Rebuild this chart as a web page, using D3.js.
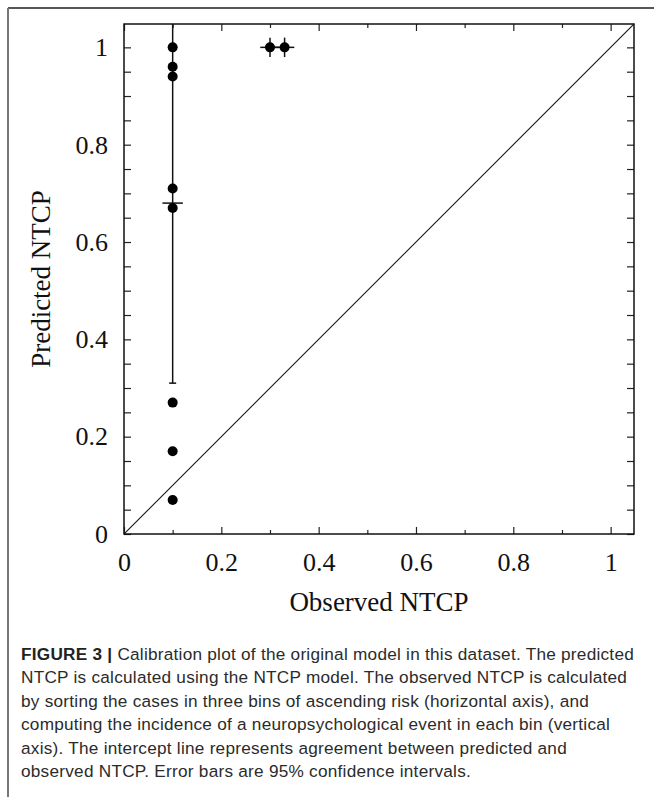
<!DOCTYPE html>
<html>
<head>
<meta charset="utf-8">
<script src="https://cdn.jsdelivr.net/npm/d3@7"></script>
<style>
  body { margin: 0; background: #fff; }
  svg { display: block; }
</style>
</head>
<body>
<script>
// individual cases: observed NTCP (bin) vs predicted NTCP
var observed  = [0.1, 0.1, 0.1, 0.1, 0.1, 0.1, 0.1, 0.1, 0.3, 0.33];
var predicted = [1.0, 0.96, 0.94, 0.71, 0.67, 0.27, 0.17, 0.07, 1.0, 1.0];

// error bars (95% CI)
var errX   = [0.1, 0.3, 0.33];
var errY   = [0.68, 1.0, 1.0];
var errXLo = [0.079, 0.28, 0.30];
var errXHi = [0.121, 0.32, 0.35];
var errYLo = [0.31, 0.98, 0.98];
var errYHi = [1.12, 1.02, 1.02];

// tick values
var xMajor = [0, 0.2, 0.4, 0.6, 0.8, 1];
var xMinor = [0.1, 0.3, 0.5, 0.7, 0.9];
var yMajor = [0, 0.2, 0.4, 0.6, 0.8, 1];
var yMinor = [0.05, 0.1, 0.15, 0.25, 0.3, 0.35, 0.45, 0.5, 0.55, 0.65, 0.7, 0.75, 0.85, 0.9, 0.95];

var captionLines = [
  "Calibration plot of the original model in this dataset. The predicted",
  "NTCP is calculated using the NTCP model. The observed NTCP is calculated",
  "by sorting the cases in three bins of ascending risk (horizontal axis), and",
  "computing the incidence of a neuropsychological event in each bin (vertical",
  "axis). The intercept line represents agreement between predicted and",
  "observed NTCP. Error bars are 95% confidence intervals."
];

var W = 654, H = 797;
// plot box edges (avoid "top", it clashes with window.top)
var pLeft = 124, pTop = 24, pRight = 634, pBottom = 534;

var svg = d3.select("body").append("svg")
  .attr("width", W)
  .attr("height", H);

// outer frame (top and left rules)
svg.append("line").attr("x1", 8).attr("y1", 8).attr("x2", W).attr("y2", 8)
  .attr("stroke", "#555").attr("stroke-width", 2);
svg.append("line").attr("x1", 8).attr("y1", 8).attr("x2", 8).attr("y2", H)
  .attr("stroke", "#777").attr("stroke-width", 2);

var x = d3.scaleLinear().domain([0, 1.048]).range([pLeft, pRight]);
var y = d3.scaleLinear().domain([0, 1.048]).range([pBottom, pTop]);

svg.append("clipPath").attr("id", "plot")
  .append("rect")
  .attr("x", pLeft).attr("y", pTop)
  .attr("width", pRight - pLeft).attr("height", pBottom - pTop);

var plot = svg.append("g").attr("clip-path", "url(#plot)");

// diagonal (perfect agreement)
plot.append("line")
  .attr("x1", x(0)).attr("y1", y(0))
  .attr("x2", x(1.048)).attr("y2", y(1.048))
  .attr("stroke", "#111").attr("stroke-width", 1.1);

// error bars
errX.forEach(function(d, i) {
  plot.append("line")
    .attr("x1", x(d)).attr("x2", x(d))
    .attr("y1", y(errYLo[i])).attr("y2", y(errYHi[i]))
    .attr("stroke", "#111").attr("stroke-width", 1.5);
  plot.append("line")
    .attr("x1", x(errXLo[i])).attr("x2", x(errXHi[i]))
    .attr("y1", y(errY[i])).attr("y2", y(errY[i]))
    .attr("stroke", "#111").attr("stroke-width", 1.5);
});
// bottom cap of the first bin's interval
plot.append("line")
  .attr("x1", x(errX[0]) - 3.5).attr("x2", x(errX[0]) + 3.5)
  .attr("y1", y(errYLo[0])).attr("y2", y(errYLo[0]))
  .attr("stroke", "#111").attr("stroke-width", 1.5);

// points
plot.selectAll("circle")
  .data(observed)
  .enter()
  .append("circle")
  .attr("cx", function(d) { return x(d); })
  .attr("cy", function(d, i) { return y(predicted[i]); })
  .attr("r", 5)
  .attr("fill", "#000");

// axes, ticks pointing inward on all four sides
var fmt = d3.format("~g");
function styleAxis(g) {
  g.select(".domain").remove();
  g.selectAll(".tick line").attr("stroke", "#222").attr("stroke-width", 1.2);
  g.selectAll("text")
    .attr("font-family", "'Liberation Serif', 'Times New Roman', serif")
    .attr("font-size", 26)
    .attr("fill", "#111");
}

svg.append("g").attr("transform", "translate(0," + pBottom + ")")
  .call(d3.axisBottom(x).tickValues(xMajor).tickSize(-7).tickPadding(19).tickFormat(fmt))
  .call(styleAxis);
svg.append("g").attr("transform", "translate(0," + pBottom + ")")
  .call(d3.axisBottom(x).tickValues(xMinor).tickSize(-4).tickFormat(""))
  .call(styleAxis);
svg.append("g").attr("transform", "translate(0," + pTop + ")")
  .call(d3.axisTop(x).tickValues(xMajor).tickSize(-7).tickFormat(""))
  .call(styleAxis);
svg.append("g").attr("transform", "translate(0," + pTop + ")")
  .call(d3.axisTop(x).tickValues(xMinor).tickSize(-4).tickFormat(""))
  .call(styleAxis);

svg.append("g").attr("transform", "translate(" + pLeft + ",0)")
  .call(d3.axisLeft(y).tickValues(yMajor).tickSize(-7).tickPadding(16).tickFormat(fmt))
  .call(styleAxis);
svg.append("g").attr("transform", "translate(" + pLeft + ",0)")
  .call(d3.axisLeft(y).tickValues(yMinor).tickSize(-7).tickFormat(""))
  .call(styleAxis);
svg.append("g").attr("transform", "translate(" + pRight + ",0)")
  .call(d3.axisRight(y).tickValues(yMajor.concat(yMinor)).tickSize(-7).tickFormat(""))
  .call(styleAxis);

// plot frame
svg.append("rect")
  .attr("x", pLeft).attr("y", pTop)
  .attr("width", pRight - pLeft).attr("height", pBottom - pTop)
  .attr("fill", "none").attr("stroke", "#111").attr("stroke-width", 1.5);

// axis titles
svg.append("text")
  .attr("x", (pLeft + pRight) / 2).attr("y", 611)
  .attr("text-anchor", "middle")
  .attr("font-family", "'Liberation Serif', 'Times New Roman', serif")
  .attr("font-size", 27).attr("fill", "#111")
  .text("Observed NTCP");

svg.append("text")
  .attr("transform", "translate(50," + (pTop + pBottom) / 2 + ") rotate(-90)")
  .attr("text-anchor", "middle")
  .attr("font-family", "'Liberation Serif', 'Times New Roman', serif")
  .attr("font-size", 27).attr("fill", "#111")
  .text("Predicted NTCP");

// caption
var cap = svg.append("g")
  .attr("font-family", "'Liberation Sans', Arial, sans-serif")
  .attr("font-size", 17.2)
  .attr("letter-spacing", 0.25)
  .attr("fill", "#2b2b2b");

captionLines.forEach(function(line, i) {
  var t = cap.append("text").attr("x", 21).attr("y", 660 + i * 23.4);
  if (i === 0) {
    t.append("tspan").attr("font-weight", "bold").attr("fill", "#222").text("FIGURE 3 | ");
  }
  t.append("tspan").text(line);
});
</script>
</body>
</html>
